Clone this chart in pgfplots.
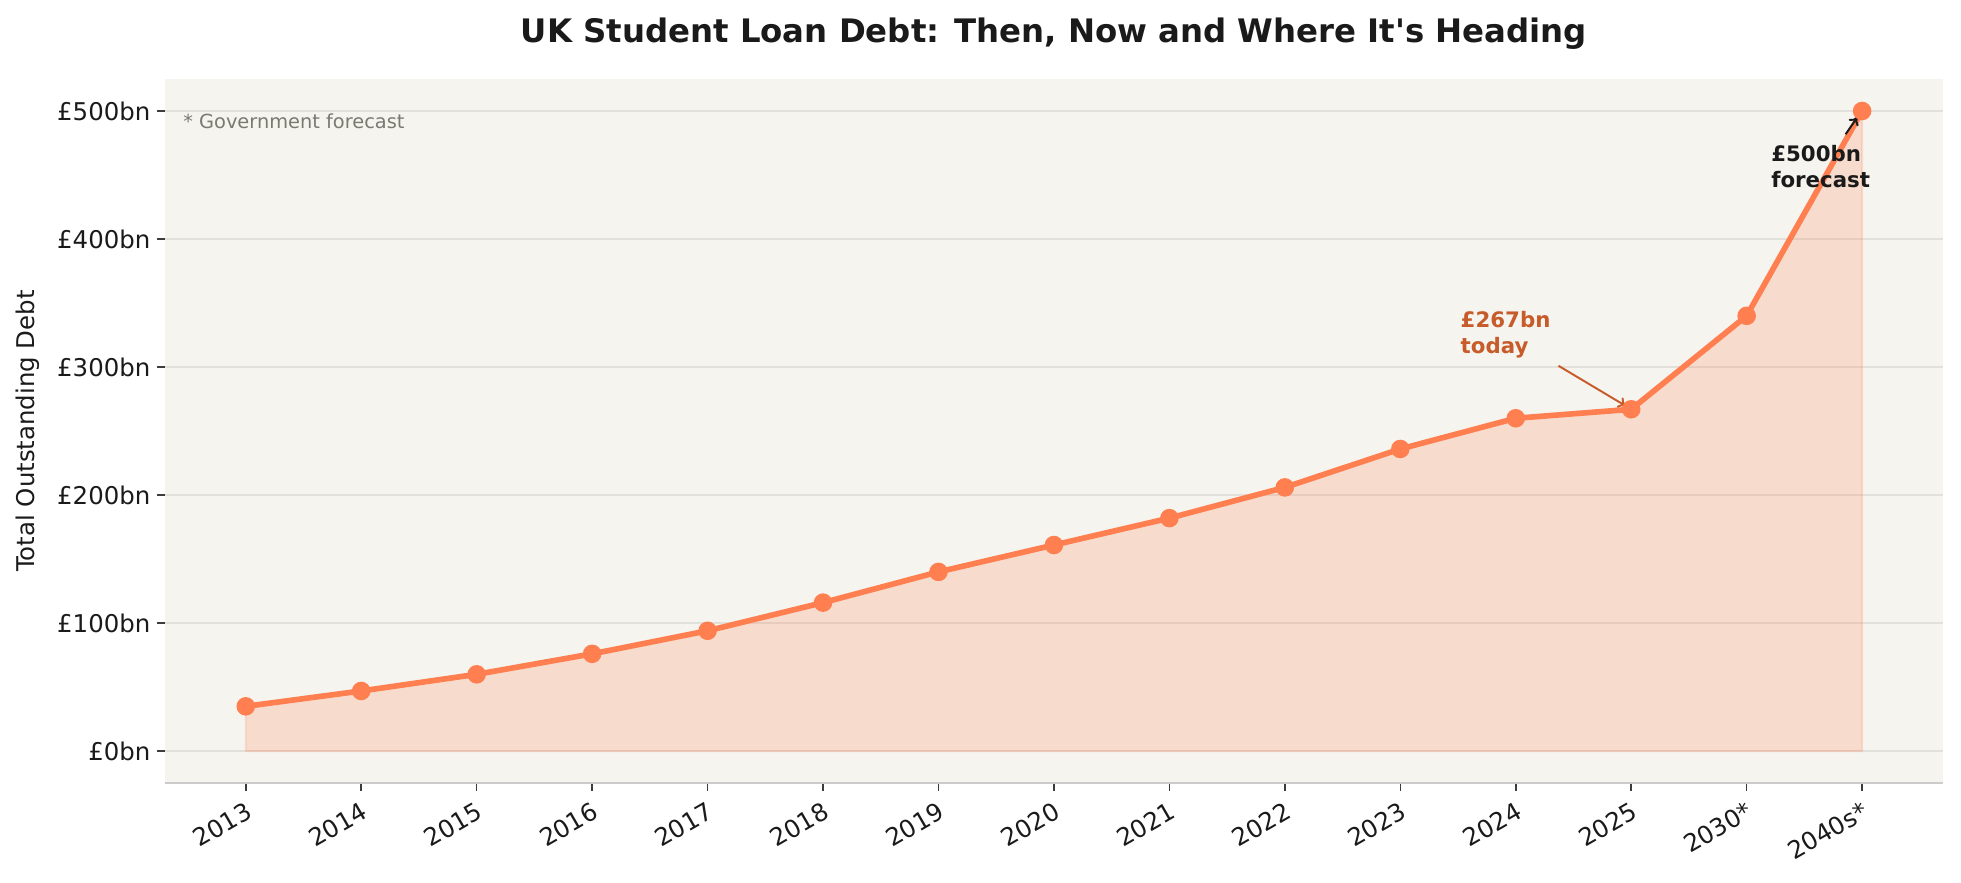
\documentclass[border=0pt]{standalone}
\usepackage{fontspec}
\setmainfont{DejaVu Sans}
\usepackage{pgfplots}
\pgfplotsset{compat=1.18}
\usetikzlibrary{arrows.meta}
\definecolor{coral}{HTML}{FF7F50}
\definecolor{bgc}{HTML}{F5F4EE}
\definecolor{gridc}{HTML}{E2E0DA}
\definecolor{today}{HTML}{C75B2A}
\definecolor{ink}{HTML}{1A1A1A}
\definecolor{note}{HTML}{7A7A72}
\definecolor{spine}{HTML}{CCCCCC}

\begin{document}
\begin{tikzpicture}
\begin{axis}[
    name=ax,
    scale only axis,
    width=914bp, height=362bp,
    xmin=-0.7, xmax=14.7,
    ymin=-25, ymax=525,
    axis background/.style={fill=bgc},
    separate axis lines,
    axis x line*=bottom, axis y line*=left,
    x axis line style={draw=spine, line width=1bp, -},
    y axis line style={draw=none},
    tick align=outside,
    major tick length=4bp,
    tick style={draw=ink!85, line width=0.8bp},
    xtick={0,...,14},
    xticklabels={2013,2014,2015,2016,2017,2018,2019,2020,2021,2022,2023,2024,2025,2030*,2040s*},
    ytick={0,100,200,300,400,500},
    yticklabels={£0bn,£100bn,£200bn,£300bn,£400bn,£500bn},
    tick label style={font=\fontsize{12.6}{15}\selectfont, text=ink},
    xticklabel style={rotate=30, anchor=north east, inner sep=1bp, xshift=-2bp, yshift=-3bp},
    ymajorgrids=true,
    grid style={draw=gridc, line width=0.8bp},
]
% shaded area under the curve
\addplot[draw=coral, draw opacity=0.2, fill=coral, fill opacity=0.2, line width=1bp]
    coordinates {
    (0,35)(1,47)(2,60)(3,76)(4,94)(5,116)(6,140)(7,161)(8,182)(9,206)(10,236)(11,260)(12,267)(13,340)(14,500)
    } \closedcycle;

\addplot[draw=coral, line width=2.9bp, mark=*, mark size=3.3bp,
    mark options={fill=coral, draw=none}]
    coordinates {
    (0,35)(1,47)(2,60)(3,76)(4,94)(5,116)(6,140)(7,161)(8,182)(9,206)(10,236)(11,260)(12,267)(13,340)(14,500)
    };

% annotations
\draw[today, line width=1bp, -{To[length=4bp,width=6bp]}] (axis cs:11.37,301) -- (axis cs:11.955,269.5);
\node[anchor=base west, inner sep=0, text=today, font=\bfseries\fontsize{11}{13}\selectfont] at (axis cs:10.52,330.6) {£267bn};
\node[anchor=base west, inner sep=0, text=today, font=\bfseries\fontsize{11}{13}\selectfont] at (axis cs:10.52,310.3) {today};

\draw[ink, line width=1bp, -{To[length=4bp,width=6bp]}] (axis cs:13.857,481.8) -- (axis cs:13.96,495.3);
\node[anchor=base west, inner sep=0, text=ink, font=\bfseries\fontsize{11}{13}\selectfont] at (axis cs:13.21,460.8) {£500bn};
\node[anchor=base west, inner sep=0, text=ink, font=\bfseries\fontsize{11}{13}\selectfont] at (axis cs:13.21,440.5) {forecast};

\node[anchor=base west, inner sep=0, text=note, font=\fontsize{10}{12}\selectfont] at (rel axis cs:0.0101,0.929) {* Government forecast};
\end{axis}

\node[anchor=base, font=\bfseries\fontsize{16.7}{20}\selectfont, text=ink] at ([yshift=18.5bp]ax.north) {UK Student Loan Debt: Then, Now and Where It\textquotesingle s Heading};
\node[rotate=90, anchor=center, font=\fontsize{12.6}{15}\selectfont, text=ink] at ([xshift=-70.4bp]ax.west) {Total Outstanding Debt};

\pgfresetboundingbox
\path ([xshift=-84.8bp,yshift=-50.9bp]ax.south west) rectangle ([xshift=9.3bp,yshift=40.6bp]ax.north east);
\end{tikzpicture}
\end{document}
